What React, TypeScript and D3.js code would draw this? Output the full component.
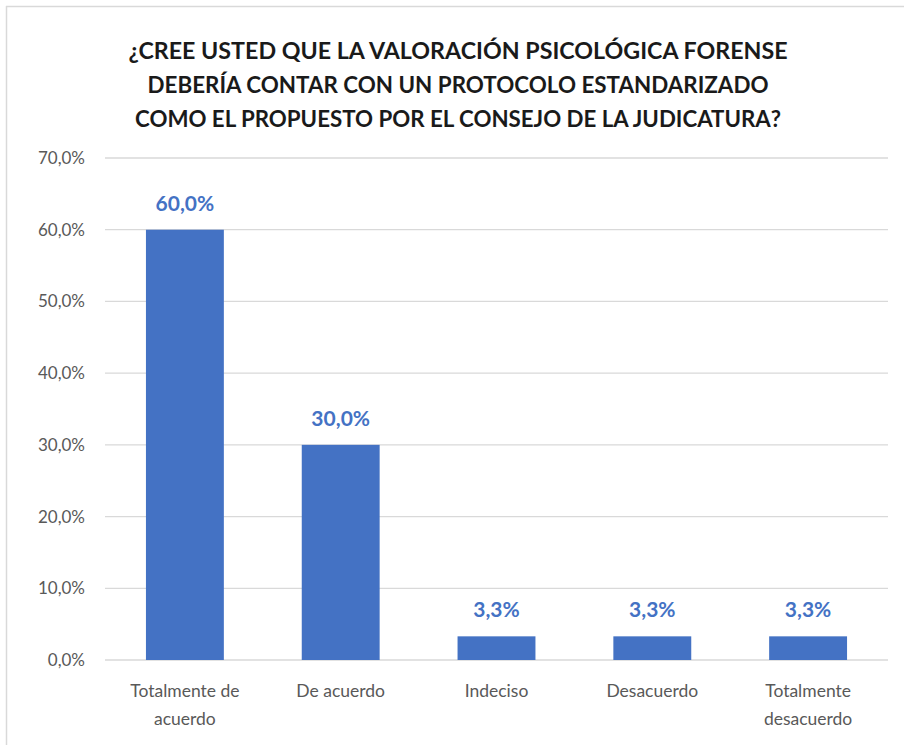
import React, { useEffect } from 'react';
import * as d3 from 'd3';

const W = 904;
const H = 745;

// ─── data ──────────────────────────────────────────────────────────────────
const titleLines = [
  '¿CREE USTED QUE LA VALORACIÓN PSICOLÓGICA FORENSE',
  'DEBERÍA CONTAR CON UN PROTOCOLO ESTANDARIZADO',
  'COMO EL PROPUESTO POR EL CONSEJO DE LA JUDICATURA?',
];
const categories = ['Totalmente de acuerdo', 'De acuerdo', 'Indeciso', 'Desacuerdo', 'Totalmente desacuerdo'];
const categoryLines = [['Totalmente de', 'acuerdo'], ['De acuerdo'], ['Indeciso'], ['Desacuerdo'], ['Totalmente', 'desacuerdo']];
const values = [60.0, 30.0, 3.3, 3.3, 3.3];
const yTicks = [0, 10, 20, 30, 40, 50, 60, 70];

const BLUE = '#4472c4';
const GRID = '#d9d9d9';
const TEXT = '#595959';
const FONT = 'Lato, "Open Sans", sans-serif';

const fmt = (v: number) => `${v.toFixed(1).replace('.', ',')}%`;

export default function App() {
  useEffect(() => {
    document.body.style.margin = '0';
  }, []);

  const x = d3.scaleBand<string>().domain(categories).range([107, 886]).paddingInner(0.5).paddingOuter(0.25);
  const y = d3.scaleLinear().domain([0, 70]).range([660, 158]);
  const titleWidths = [659, 621, 646];

  return (
    <svg width={W} height={H} style={{ display: 'block', background: '#fff' }} fontFamily={FONT}>
      {/* chart frame */}
      <line x1={6.5} y1={6} x2={6.5} y2={H} stroke={GRID} strokeWidth={1.5} />
      <line x1={6} y1={6.5} x2={W} y2={6.5} stroke={GRID} strokeWidth={1.5} />

      {titleLines.map((t, i) => (
        <text
          key={i}
          x={458}
          y={59 + i * 34}
          textAnchor="middle"
          fontSize={23}
          fontWeight={700}
          fill="#1a1a1a"
          textLength={titleWidths[i]}
          lengthAdjust="spacingAndGlyphs"
        >
          {t}
        </text>
      ))}

      {yTicks.map(t => (
        <g key={t}>
          <line x1={105} x2={888} y1={y(t)} y2={y(t)} stroke={GRID} strokeWidth={1.3} />
          <text x={85} y={y(t)} dy="0.35em" textAnchor="end" fontSize={17} fill={TEXT}>
            {fmt(t)}
          </text>
        </g>
      ))}

      {categories.map((c, i) => {
        const bx = x(c) ?? 0;
        const cx = bx + x.bandwidth() / 2;
        return (
          <g key={c}>
            <rect x={bx} y={y(values[i])} width={x.bandwidth()} height={y(0) - y(values[i])} fill={BLUE} />
            <text x={cx} y={y(values[i]) - 19} textAnchor="middle" fontSize={21} fontWeight={700} fill={BLUE}>
              {fmt(values[i])}
            </text>
            {categoryLines[i].map((l, j) => (
              <text key={j} x={cx} y={697 + j * 28} textAnchor="middle" fontSize={17.5} fill={TEXT}>
                {l}
              </text>
            ))}
          </g>
        );
      })}
    </svg>
  );
}
